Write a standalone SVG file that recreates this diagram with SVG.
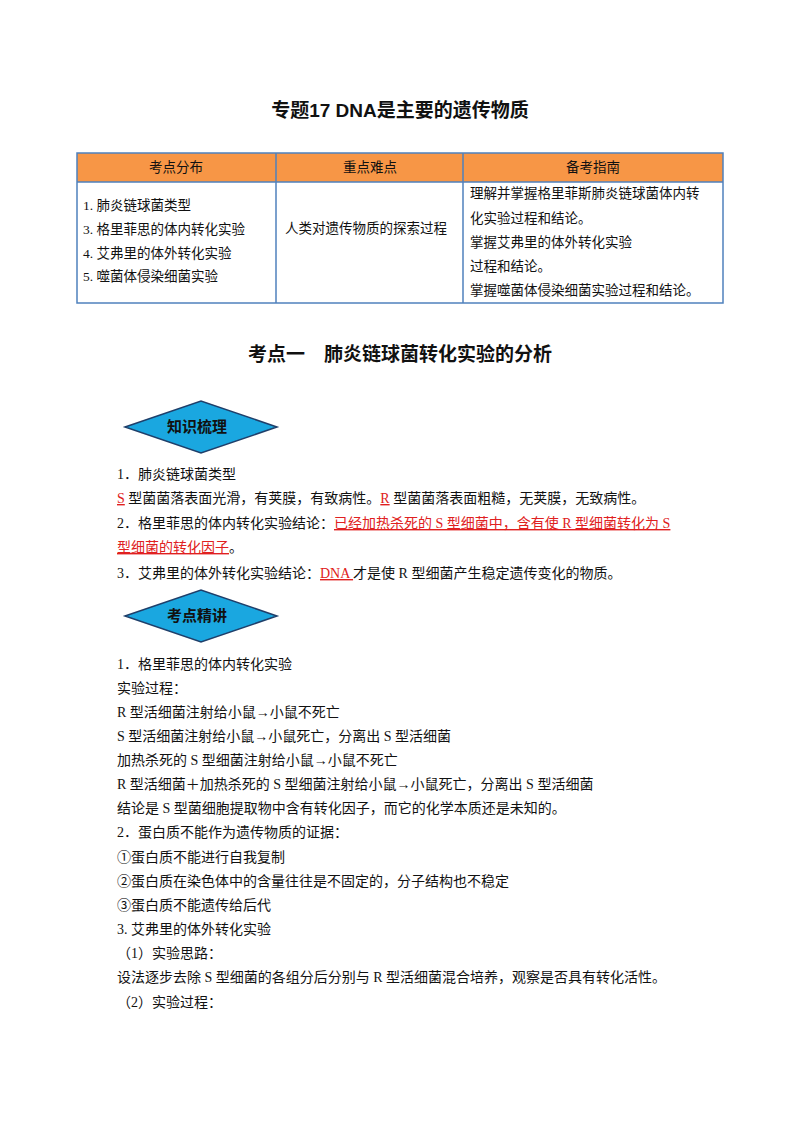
<svg xmlns="http://www.w3.org/2000/svg" width="800" height="1132" viewBox="0 0 800 1132">
<style>
text{font-family:"Liberation Serif","Noto Sans CJK SC",serif;font-size:14px;fill:#111}
.t{font-size:13.5px}
.b{font-weight:bold;font-family:"Liberation Sans","Noto Sans CJK SC",sans-serif}
.h{font-size:19px}
.r{fill:#e02020}
.c{text-anchor:middle}
.bd{font-size:15px;font-weight:bold;font-family:"Noto Sans CJK SC",sans-serif}
</style>
<rect width="800" height="1132" fill="#fff"/>
<text class="b h c" x="400" y="117">专题17 DNA是主要的遗传物质</text>
<g id="table">
<rect x="77" y="153" width="646" height="29" fill="#f79646"/>
<g fill="none" stroke="#4f81bd" stroke-width="1.5">
<rect x="77" y="153" width="646" height="150"/>
<line x1="77" y1="182" x2="723" y2="182"/>
<line x1="276" y1="153" x2="276" y2="303"/>
<line x1="463" y1="153" x2="463" y2="303"/>
</g>
<text class="c t" x="176" y="172">考点分布</text>
<text class="c t" x="370" y="172">重点难点</text>
<text class="c t" x="593" y="172">备考指南</text>
<text class="t" x="83" y="210">1. 肺炎链球菌类型</text>
<text class="t" x="83" y="234">3. 格里菲思的体内转化实验</text>
<text class="t" x="83" y="258">4. 艾弗里的体外转化实验</text>
<text class="t" x="83" y="281">5. 噬菌体侵染细菌实验</text>
<text class="t" x="285" y="233">人类对遗传物质的探索过程</text>
<text class="t" x="470" y="198">理解并掌握格里菲斯肺炎链球菌体内转</text>
<text class="t" x="470" y="223">化实验过程和结论。</text>
<text class="t" x="470" y="247">掌握艾弗里的体外转化实验</text>
<text class="t" x="470" y="271">过程和结论。</text>
<text class="t" x="470" y="295">掌握噬菌体侵染细菌实验过程和结论。</text>
</g>
<text class="b h c" x="400" y="361">考点一　肺炎链球菌转化实验的分析</text>
<g id="badge1">
<polygon points="125,427 201,401 277,427 201,453" fill="#1aa7e0" stroke="#1f3f6a" stroke-width="1.5"/>
<text class="bd c" x="197" y="432">知识梳理</text>
</g>
<text x="117" y="479">1．肺炎链球菌类型</text>
<text x="117" y="503"><tspan class="r" text-decoration="underline">S</tspan> 型菌菌落表面光滑，有荚膜，有致病性。<tspan class="r" text-decoration="underline">R</tspan> 型菌菌落表面粗糙，无荚膜，无致病性。</text>
<text x="117" y="528">2．格里菲思的体内转化实验结论：<tspan class="r" text-decoration="underline">已经加热杀死的 S 型细菌中，含有使 R 型细菌转化为 S</tspan></text>
<text x="117" y="552"><tspan class="r" text-decoration="underline">型细菌的转化因子</tspan>。</text>
<text x="117" y="578">3．艾弗里的体外转化实验结论：<tspan class="r" text-decoration="underline">DNA </tspan>才是使 R 型细菌产生稳定遗传变化的物质。</text>
<g id="badge2">
<polygon points="125,616 201,590 277,616 201,642" fill="#1aa7e0" stroke="#1f3f6a" stroke-width="1.5"/>
<text class="bd c" x="197" y="621">考点精讲</text>
</g>
<text x="117" y="669">1．格里菲思的体内转化实验</text>
<text x="117" y="693">实验过程：</text>
<text x="117" y="717">R 型活细菌注射给小鼠→小鼠不死亡</text>
<text x="117" y="741">S 型活细菌注射给小鼠→小鼠死亡，分离出 S 型活细菌</text>
<text x="117" y="765">加热杀死的 S 型细菌注射给小鼠→小鼠不死亡</text>
<text x="117" y="789">R 型活细菌＋加热杀死的 S 型细菌注射给小鼠→小鼠死亡，分离出 S 型活细菌</text>
<text x="117" y="813">结论是 S 型菌细胞提取物中含有转化因子，而它的化学本质还是未知的。</text>
<text x="117" y="837">2．蛋白质不能作为遗传物质的证据：</text>
<text x="117" y="862">①蛋白质不能进行自我复制</text>
<text x="117" y="886">②蛋白质在染色体中的含量往往是不固定的，分子结构也不稳定</text>
<text x="117" y="910">③蛋白质不能遗传给后代</text>
<text x="117" y="934">3. 艾弗里的体外转化实验</text>
<text x="117" y="958">（1）实验思路：</text>
<text x="117" y="982">设法逐步去除 S 型细菌的各组分后分别与 R 型活细菌混合培养，观察是否具有转化活性。</text>
<text x="117" y="1007">（2）实验过程：</text>
</svg>
